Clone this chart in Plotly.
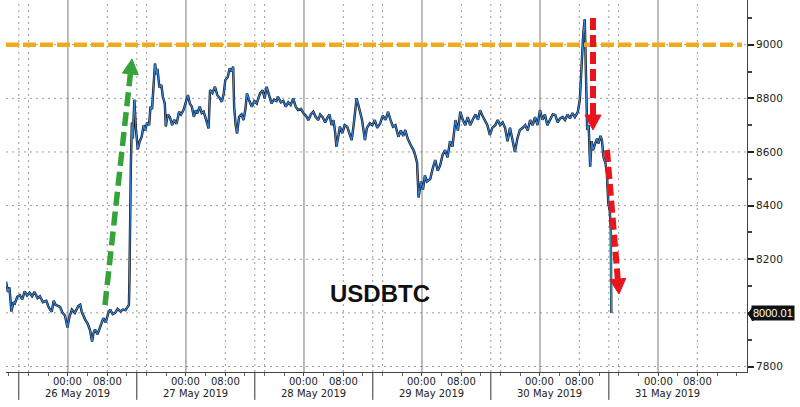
import math
import pandas as pd
import plotly.graph_objects as go

# USDBTC intraday, hours from 26 May 2019 00:00
hours = [
    -12.6, -12.2, -11.9, -11.5, -11.1, -10.8, -10.3, -9.8, -9.3, -8.8, -8.3, -7.8, -7.3, -6.8,
    -6.2, -5.7, -5.1, -4.4, -3.9, -3.3, -2.9, -2.5, -1.6, -1.1, -0.6, -0.1, 0.3, 0.8, 1.4, 2.1,
    2.5, 2.8, 3.5, 4.0, 4.5, 4.9, 5.2, 5.5, 6.0, 6.6, 7.2, 7.7, 8.2, 8.6, 9.1, 9.6, 10.1, 10.7,
    11.2, 11.7, 12.1, 12.4,
    12.5, 12.6, 12.8, 13.0, 13.2, 13.5, 13.8, 14.2, 14.6, 15.0, 15.4, 15.7, 16.1, 16.5, 16.8,
    17.1, 17.4, 17.7, 18.0, 18.2, 18.6, 19.0, 19.3, 19.7, 19.9, 20.3, 20.7, 21.2, 21.6, 22.1,
    22.6, 23.0, 23.5, 24.0, 24.4, 24.8, 25.2, 25.6, 26.0, 26.3, 26.8, 27.2, 27.6, 28.1, 28.6,
    28.9, 29.4, 29.9, 30.4, 30.9, 31.3, 31.7, 32.0, 32.5, 32.9, 33.3, 33.6, 33.8, 34.1, 34.4,
    34.8, 35.3, 35.7, 36.1, 36.4, 36.9, 37.4, 37.9, 38.4, 38.8, 39.1, 39.6, 40.0, 40.4, 40.9,
    41.4, 41.9, 42.4, 42.7, 43.3, 43.8, 44.3, 44.8, 45.3, 45.8, 46.3, 46.8, 47.4, 47.9, 48.4,
    48.9, 49.4, 49.9, 50.4, 50.9, 51.3, 51.8, 52.3, 52.7, 53.2, 53.6, 54.0, 54.3, 54.6, 55.0,
    55.3, 55.8, 56.3, 56.8, 57.3, 57.7, 58.1, 58.7, 59.0, 59.3, 59.8, 60.4, 60.8, 61.4, 61.9,
    62.4, 62.9, 63.5, 64.0, 64.6, 65.1, 65.6, 66.1, 66.6, 67.2, 67.7, 68.2, 68.6, 69.1, 69.7,
    70.2, 70.6, 71.0, 71.3, 71.6, 71.8, 72.2, 72.6, 73.0, 73.7, 74.2, 74.7, 75.2, 75.7, 76.2,
    76.7, 77.2, 77.7, 78.2, 78.8, 79.3, 79.8, 80.3, 80.8, 81.3, 81.8, 82.3, 82.9, 83.4, 83.8,
    84.3, 84.8, 85.3, 85.8, 86.3, 86.9, 87.4, 87.9, 88.4, 88.9, 89.4, 89.9, 90.4, 90.9, 91.4,
    91.9, 92.5, 93.0, 93.5, 94.0, 94.5, 95.0, 95.5, 96.0, 96.5, 97.0, 97.5, 98.0, 98.6, 99.1,
    99.6, 100.1, 100.6, 101.1, 101.6, 102.1, 102.6, 103.1, 103.7, 104.1, 104.5, 104.8, 105.1,
    105.3, 105.4, 105.6, 105.9, 106.2, 106.5, 106.8, 107.2, 107.6, 107.9, 108.3, 108.6, 108.9,
    109.3, 109.6, 109.9, 110.2, 110.4, 110.45, 110.5,
]
price = [
    8116, 8078, 8095, 8005, 8040, 8035, 8060, 8066, 8050, 8080, 8065, 8075, 8062, 8078,
    8055, 8062, 8040, 8045, 8020, 8004, 8045, 8030, 8022, 8000, 7990, 7945, 7985, 8012, 8000, 8025,
    8030, 8004, 7975, 7960, 7935, 7893, 7925, 7938, 7920, 7950, 7980, 7965, 8000, 8012, 7995, 8000, 8015, 8005,
    8012, 8010, 8022, 8030,
    8122, 8320, 8560, 8710, 8650, 8795, 8690, 8610, 8640, 8657, 8700, 8680, 8710, 8700, 8770,
    8760, 8870, 8930, 8890, 8910, 8840, 8850, 8806, 8780, 8695, 8740, 8731, 8700, 8720, 8705,
    8750, 8740, 8756, 8790, 8812, 8780, 8769, 8731, 8755, 8744, 8769, 8745, 8750, 8720, 8688,
    8831, 8820, 8843, 8812, 8800, 8787, 8820, 8868, 8880, 8912, 8900, 8918, 8769, 8700, 8669,
    8731, 8740, 8719, 8760, 8819, 8790, 8769, 8790, 8781, 8805, 8819, 8830, 8800, 8843, 8810,
    8781, 8795, 8790, 8806, 8785, 8790, 8769, 8785, 8775, 8800, 8770, 8756, 8760, 8744, 8735,
    8719, 8740, 8750, 8730, 8719, 8740, 8730, 8710, 8725, 8740, 8700, 8719, 8680, 8619, 8660,
    8694, 8670, 8700, 8694, 8670, 8644, 8700, 8800, 8780, 8756, 8720, 8644, 8690, 8707, 8700,
    8719, 8690, 8707, 8735, 8720, 8750, 8720, 8694, 8700, 8657, 8680, 8660, 8682, 8650, 8626,
    8610, 8589, 8560, 8430, 8470, 8490, 8460, 8513, 8490, 8500, 8540, 8570, 8530, 8550, 8590,
    8607, 8580, 8640, 8620, 8719, 8680, 8750, 8720, 8700, 8730, 8700, 8720, 8740, 8720, 8756,
    8735, 8720, 8700, 8663, 8690, 8700, 8719, 8700, 8710, 8690, 8640, 8690, 8650, 8600, 8650,
    8682, 8690, 8700, 8680, 8719, 8700, 8730, 8700, 8756, 8720, 8740, 8700, 8720, 8740, 8738,
    8710, 8725, 8730, 8719, 8740, 8725, 8745, 8730, 8750, 8794, 8943, 9040, 9095,
    8950, 8831, 8682, 8700, 8545, 8640, 8607, 8630, 8650, 8632, 8660, 8644, 8582,
    8560, 8520, 8408, 8380, 8309, 8186, 8000.01,
]

last_label = "8000.01"
resistance = 9000
y_ticks = [7800, 8000, 8200, 8400, 8600, 8800, 9000]
y_ticktext = ["7800", "", "8200", "8400", "8600", "8800", "9000"]
day_names = ["26 May 2019", "27 May 2019", "28 May 2019", "29 May 2019", "30 May 2019", "31 May 2019"]
time_names = ["00:00", "08:00"]

base = pd.Timestamp("2019-05-26 00:00")
t = base + pd.to_timedelta(hours, unit="h")


def at(h):
    return base + pd.Timedelta(hours=h)


# plot area in pixels: x 6..747, y 0..372
def px(x):
    return (x - 6) / 741


def py(y):
    return (372 - y) / 372


fig = go.Figure()
fig.add_scatter(x=t, y=price, mode="lines", line=dict(color="#111111", width=2.4),
                hoverinfo="skip", showlegend=False)
fig.add_scatter(x=t, y=price, mode="lines", line=dict(color="#3383DA", width=1.2),
                hoverinfo="skip", showlegend=False)
fig.add_scatter(x=t[-3:], y=price[-3:], mode="lines", line=dict(color="#2A9C9A", width=1.2),
                hoverinfo="skip", showlegend=False)

dotted = dict(color="#9a9a9a", width=1, dash="2px,4px")
shapes = []
# horizontal dotted grid
for v in y_ticks:
    shapes.append(dict(type="line", xref="paper", yref="y", x0=0, x1=1, y0=v, y1=v,
                       line=dotted, layer="below"))
# vertical grid: solid at midnight, dotted at 08:00 / 16:00 and at day separators
for d in range(6):
    shapes.append(dict(type="line", xref="x", yref="paper", x0=at(24 * d), x1=at(24 * d),
                       y0=0, y1=1, line=dict(color="#7a7a7a", width=1), layer="below"))
for h in [-8] + [8 + 24 * d for d in range(6)] + [16 + 24 * d for d in range(5)]:
    shapes.append(dict(type="line", xref="x", yref="paper", x0=at(h), x1=at(h),
                       y0=0, y1=1, line=dotted, layer="below"))
for d in range(6):
    h = -10 + 24 * d
    shapes.append(dict(type="line", xref="x", yref="paper", x0=at(h), x1=at(h),
                       y0=0, y1=1, line=dotted, layer="below"))
    shapes.append(dict(type="line", xref="x", yref="paper", x0=at(h), x1=at(h),
                       y0=0, y1=-0.075, line=dict(color="#333333", width=1)))

# orange resistance line
shapes.append(dict(type="line", xref="paper", yref="y", x0=0, x1=px(742), y0=resistance, y1=resistance,
                   line=dict(color="#F0AA1E", width=4.5, dash="13px,4px")))


def arrow(x0, y0, x1, y1, color, width, dash):
    dx, dy = x1 - x0, y1 - y0
    n = math.hypot(dx, dy)
    ux, uy = dx / n, dy / n
    hl, hw = 15, 8
    bx, by = x1 - hl * ux, y1 - hl * uy
    pxp, pyp = -uy, ux
    shapes.append(dict(type="line", xref="paper", yref="paper",
                       x0=px(x0), y0=py(y0), x1=px(bx), y1=py(by),
                       line=dict(color=color, width=width, dash=dash)))
    path = "M {:.5f},{:.5f} L {:.5f},{:.5f} L {:.5f},{:.5f} Z".format(
        px(x1), py(y1), px(bx + hw * pxp), py(by + hw * pyp), px(bx - hw * pxp), py(by - hw * pyp))
    shapes.append(dict(type="path", xref="paper", yref="paper", path=path,
                       fillcolor=color, line=dict(color=color, width=1)))


arrow(105, 305, 132, 59, "#35A33A", 5.5, "14px,6px")
arrow(593, 18, 593, 130, "#E8161C", 6, "12px,5px")
arrow(607, 150, 619, 294, "#E8161C", 6, "12px,5px")

# last price tag pointer
shapes.append(dict(type="path", xref="paper", yref="paper",
                   path="M {:.5f},{:.5f} L {:.5f},{:.5f} L {:.5f},{:.5f} Z".format(
                       px(748), py(314), px(753), py(307), px(753), py(321)),
                   fillcolor="#111111", line=dict(color="#111111", width=1)))

annotations = [
    dict(text="<b>USDBTC</b>", xref="paper", yref="paper", x=px(380), y=py(293), showarrow=False,
         font=dict(family="Liberation Sans", size=24, color="#111111"), xanchor="center", yanchor="middle"),
    dict(text=last_label, xref="paper", yref="y", x=px(751), y=8000.01, showarrow=False,
         xanchor="left", yanchor="middle", bgcolor="#111111", borderpad=1,
         font=dict(family="Liberation Sans", size=11, color="white")),
]
for i, name in enumerate(day_names):
    annotations.append(dict(text=name, xref="x", yref="paper", x=at(24 * i + 2), y=py(393),
                            showarrow=False, xanchor="center", yanchor="middle",
                            font=dict(family="DejaVu Sans", size=10, color="#222222")))
    for j, tn in enumerate(time_names):
        annotations.append(dict(text=tn, xref="x", yref="paper", x=at(24 * i + 8 * j), y=py(381),
                                showarrow=False, xanchor="center", yanchor="middle",
                                font=dict(family="DejaVu Sans", size=10, color="#222222")))

tickvals = [at(24 * d + 8 * j) for d in range(6) for j in range(2)]

fig.update_layout(
    width=800, height=407,
    margin=dict(l=6, r=53, t=0, b=35),
    plot_bgcolor="white", paper_bgcolor="white",
    shapes=shapes, annotations=annotations,
    showlegend=False,
    xaxis=dict(range=[at(-12.6), at(138.1)], tickvals=tickvals, showticklabels=False,
               showgrid=False, zeroline=False, showline=True, linecolor="#444444", linewidth=1,
               ticks="outside", ticklen=3, tickcolor="#444444",
               minor=dict(ticks="outside", ticklen=3, tickcolor="#666666",
                          dtick=4 * 3600 * 1000, tick0="2019-05-26 00:00", showgrid=False)),
    yaxis=dict(range=[7779.5, 9166.7], side="right", tickvals=y_ticks, ticktext=y_ticktext,
               showgrid=False, zeroline=False, showline=True, linecolor="#444444", linewidth=1,
               ticks="outside", ticklen=6, tickwidth=2, tickcolor="#222222",
               minor=dict(ticks="outside", ticklen=4, tickcolor="#444444", dtick=100, tick0=7800, showgrid=False),
               tickfont=dict(family="DejaVu Sans", size=10.5, color="#222222")),
)

# page body has a default 8px margin; drop it so the figure sits at the window's corner
fig.write_html("out.html", config={"displayModeBar": False},
               post_script="document.body.style.margin='0';")
